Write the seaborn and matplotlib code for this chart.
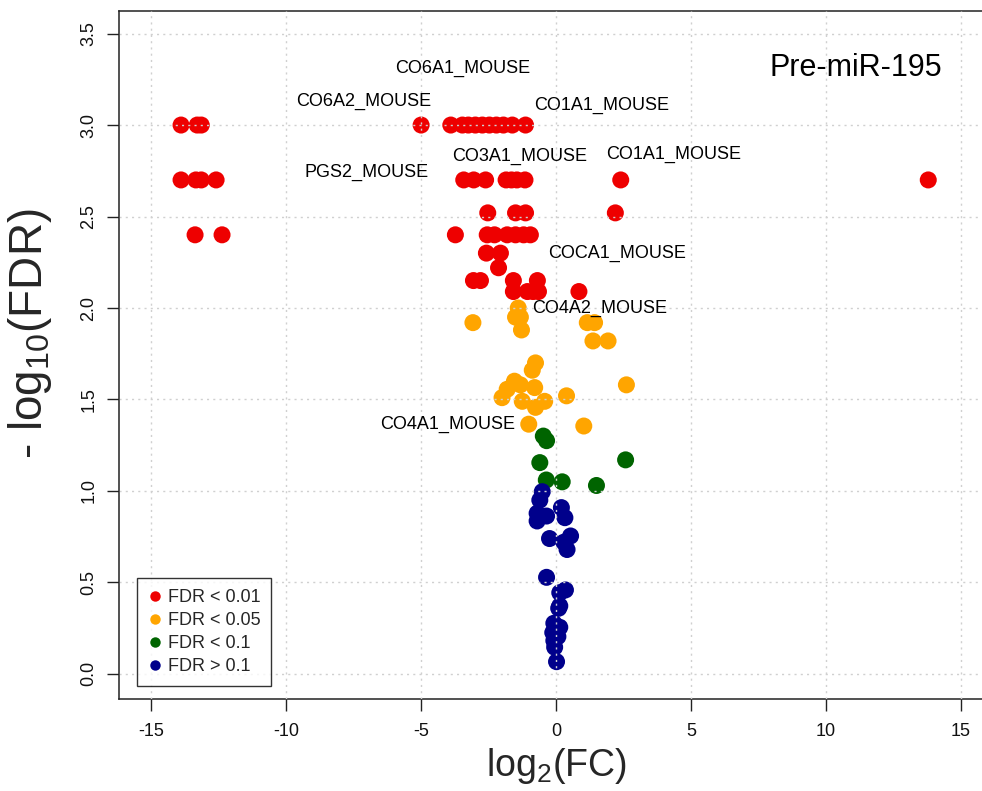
import matplotlib
matplotlib.use("Agg")
import matplotlib.pyplot as plt
from matplotlib.lines import Line2D
import numpy as np
import pandas as pd
import seaborn as sns

sns.set_theme(style="white")
plt.rcParams["font.family"] = ["Liberation Sans", "DejaVu Sans"]
plt.rcParams["mathtext.fontset"] = "custom"
plt.rcParams["mathtext.rm"] = "Liberation Sans"
plt.rcParams["mathtext.it"] = "Liberation Sans:italic"

# log2 fold change / -log10(FDR) per protein, grouped by significance class
red_x = [-13.9, -13.3, -13.15, -5.0, -3.9, -3.47, -3.25, -2.99, -2.73, -2.47, -2.21, -1.95, -1.62, -1.13,
         -13.9, -13.35, -13.15, -12.6, -3.42, -3.05, -2.61, -1.85, -1.65, -1.45, -1.15, 2.4, 13.8,
         -2.53, -1.5, -1.13, 2.2,
         -13.38, -12.38, -3.73, -2.55, -2.28, -1.81, -1.5, -1.2, -0.95,
         -2.58, -2.06, -2.13,
         -3.06, -2.8, -1.58, -0.69,
         -1.58, -1.06, -0.85, -0.65, 0.85]
red_y = [3.0] * 14 + [2.7] * 13 + [2.52] * 4 + [2.4] * 9 + [2.3, 2.3, 2.22] + [2.15] * 4 + [2.09] * 5

orange_x = [-1.40, -1.5, -1.32, -3.08, -1.28, 1.16, 1.43, 1.37, 1.93, -0.76, -0.88, -1.54,
            -1.32, -1.81, -0.79, -2.0, -1.25, -0.42, -0.76, 0.39, 2.61, -1.01, 1.03]
orange_y = [2.0, 1.95, 1.95, 1.92, 1.88, 1.92, 1.92, 1.82, 1.82, 1.70, 1.66, 1.60,
            1.58, 1.556, 1.565, 1.51, 1.49, 1.49, 1.457, 1.52, 1.58, 1.365, 1.355]

green_x = [-0.47, -0.35, 2.58, -0.6, -0.36, 0.23, 1.5]
green_y = [1.30, 1.275, 1.17, 1.155, 1.06, 1.05, 1.03]

blue_x = [-0.51, -0.6, -0.70, -0.35, -0.7, 0.2, 0.33, -0.24, 0.54, 0.29, 0.41, -0.35,
          0.35, 0.14, 0.14, 0.1, -0.08, 0.14, -0.12, 0.07, -0.08, -0.05, 0.02]
blue_y = [0.996, 0.95, 0.878, 0.863, 0.836, 0.909, 0.854, 0.74, 0.754, 0.72, 0.68, 0.528,
          0.459, 0.444, 0.372, 0.359, 0.277, 0.255, 0.226, 0.204, 0.182, 0.146, 0.067]

classes = ["FDR < 0.01", "FDR < 0.05", "FDR < 0.1", "FDR > 0.1"]
class_colors = ["#EE0000", "#FFA500", "#006400", "#00008B"]

# protein annotations: (text, x, y)
label_text = ["CO6A1_MOUSE", "CO6A2_MOUSE", "CO1A1_MOUSE", "CO3A1_MOUSE", "CO1A1_MOUSE",
              "PGS2_MOUSE", "COCA1_MOUSE", "CO4A2_MOUSE", "CO4A1_MOUSE"]
label_x = [-3.45, -7.14, 1.69, -1.35, 4.36, -7.03, 2.28, 1.61, -4.03]
label_y = [3.31, 3.13, 3.11, 2.83, 2.84, 2.74, 2.30, 2.0, 1.366]

x_ticks = [-15, -10, -5, 0, 5, 10, 15]
y_ticks = [0.0, 0.5, 1.0, 1.5, 2.0, 2.5, 3.0, 3.5]

df = pd.DataFrame({
    "log2FC": red_x + orange_x + green_x + blue_x,
    "mlog10FDR": red_y + orange_y + green_y + blue_y,
    "group": ([classes[0]] * len(red_x) + [classes[1]] * len(orange_x)
              + [classes[2]] * len(green_x) + [classes[3]] * len(blue_x)),
})

fig = plt.figure(figsize=(9.82, 7.91), dpi=100)
ax = fig.add_axes([0.12118, 0.11631, 0.89002, 0.87017])

sns.scatterplot(data=df, x="log2FC", y="mlog10FDR", hue="group", hue_order=classes,
                palette=class_colors, s=150, linewidth=0, legend=False, ax=ax, zorder=1)

ax.set_xlim(-16.2, 16.2)
ax.set_ylim(-0.137, 3.625)
ax.set_xticks(x_ticks)
ax.set_xticklabels([str(t) for t in x_ticks])
ax.set_yticks(y_ticks)
ax.set_yticklabels([f"{t:.1f}" for t in y_ticks], rotation=90, va="center")

ax.set_axisbelow(False)
ax.grid(True, color="#d0d0d0", linestyle=(0, (1.5, 3)), linewidth=1.0)

for sp in ax.spines.values():
    sp.set_color("#222222")
    sp.set_linewidth(1.1)

ax.tick_params(axis="both", which="major", direction="out", length=8.5, width=1.0,
               color="#222222", labelsize=13, labelcolor="#111111", bottom=True, left=True)
ax.tick_params(axis="x", pad=9)
ax.tick_params(axis="y", pad=7)

ax.set_xlabel("")
ax.set_ylabel("")
fig.text(0.5662, 1 - 766 / 791, r"log$_{2}$(FC)", ha="center", va="center", fontsize=27)
fig.text(0.031, 1 - 334 / 791, r"- log$_{10}$(FDR)", ha="center", va="center",
         fontsize=33, rotation=90)

for t, x, y in zip(label_text, label_x, label_y):
    ax.text(x, y, t, ha="center", va="center", fontsize=13, color="black", zorder=3)

ax.text(11.12, 3.31, "Pre-miR-195", ha="center", va="center", fontsize=22, color="black")

handles = [Line2D([0], [0], marker="o", linestyle="none", markersize=7.5,
                  markerfacecolor=c, markeredgewidth=0) for c in class_colors]
leg = ax.legend(handles, classes, loc="lower left", bbox_to_anchor=(0.0206, 0.0189),
                borderaxespad=0, fancybox=False, frameon=True, fontsize=13,
                handlelength=0.8, handletextpad=0.3, borderpad=0.6, labelspacing=0.33)
leg.get_frame().set_edgecolor("black")
leg.get_frame().set_linewidth(1.0)
leg.get_frame().set_facecolor("white")

fig.savefig("out.png", dpi=100)
